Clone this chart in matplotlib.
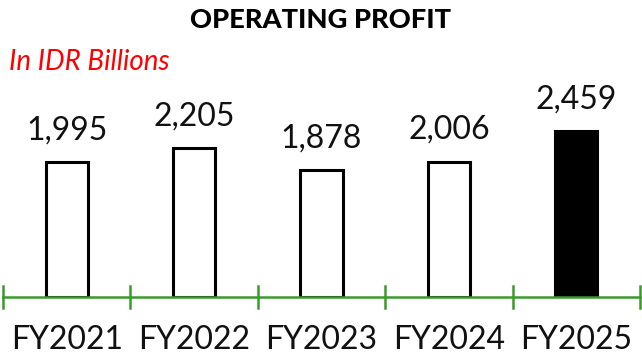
import matplotlib.pyplot as plt
import numpy as np

# --- dane ---
years = ["FY2021", "FY2022", "FY2023", "FY2024", "FY2025"]
profit = [1995, 2205, 1878, 2006, 2459]
fill_colors = ["white", "white", "white", "white", "black"]

plt.rcParams['font.family'] = ['Lato', 'DejaVu Sans']

W, H = 642, 359
fig = plt.figure(figsize=(W / 100, H / 100), dpi=100)

# os: od linii bazowej (y=297 px) do gory
ax_left, ax_right = 3, 640
ax_bottom, ax_top = 297, 40
ax = fig.add_axes([ax_left / W, (H - ax_bottom) / H,
                   (ax_right - ax_left) / W, (ax_bottom - ax_top) / H])

px_per_unit = 166 / 2459
ax.set_ylim(0, (ax_bottom - ax_top) / px_per_unit)
ax.set_xlim(-0.5, len(years) - 0.5)

x = np.arange(len(years))
ax.bar(x, profit, width=0.33, color=fill_colors, edgecolor="black",
       linewidth=2.2, zorder=2)

for xi, v in zip(x, profit):
    ax.annotate(f"{v:,}", (xi, v), xytext=(0, 12), textcoords="offset points",
                ha="center", va="bottom", fontsize=23, color="#111111")

# zielona os z kreskami miedzy kategoriami
green = "#3a9a2a"
ax.axhline(0, color=green, linewidth=1.8, zorder=3, clip_on=False)
for b in np.arange(-0.5, len(years), 1.0):
    ax.plot([b, b], [-11 / px_per_unit, 11 / px_per_unit], color=green,
            linewidth=1.8, clip_on=False, zorder=3)

for xi, lab in zip(x, years):
    ax.text(xi, -43 / px_per_unit, lab, ha="center", va="center",
            fontsize=23, color="#111111")

for s in ax.spines.values():
    s.set_visible(False)
ax.set_xticks([])
ax.set_yticks([])

fig.text(0.5, 1 - 20 / H, "OPERATING PROFIT", ha="center", va="center",
         fontsize=19.6, fontweight="black", color="black")
fig.text(9 / W, 1 - 62 / H, "In IDR Billions", ha="left", va="center",
         fontsize=20, style="italic", color="#ff0000")

fig.savefig("out.png", dpi=100)
